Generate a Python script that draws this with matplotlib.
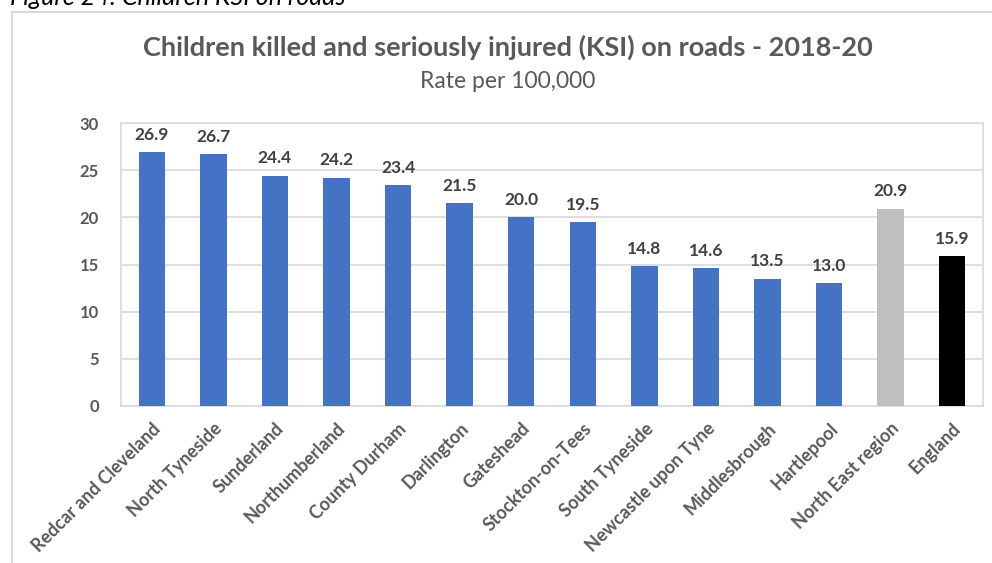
import matplotlib.pyplot as plt
from matplotlib.patches import Rectangle

# Data
areas = ['Redcar and Cleveland', 'North Tyneside', 'Sunderland', 'Northumberland',
         'County Durham', 'Darlington', 'Gateshead', 'Stockton-on-Tees',
         'South Tyneside', 'Newcastle upon Tyne', 'Middlesbrough', 'Hartlepool',
         'North East region', 'England']
rates = [26.9, 26.7, 24.4, 24.2, 23.4, 21.5, 20.0, 19.5, 14.8, 14.6, 13.5, 13.0, 20.9, 15.9]
colors = ['#4472C4'] * 12 + ['#BFBFBF', '#000000']

plt.rcParams['font.family'] = ['Lato', 'DejaVu Sans']

W, H = 992, 563
fig = plt.figure(figsize=(W / 100, H / 100), dpi=100)

# outer chart frame (cropped on right and bottom)
fig.patches.append(Rectangle((12 / W, -0.1), 1.0, 1 - 12 / H + 0.1,
                             transform=fig.transFigure, fill=False,
                             edgecolor='#D9D9D9', linewidth=1.5))

# cut-off caption at the very top
fig.text(10 / W, 1 - 5 / H, 'Figure 24: Children KSI on roads', fontsize=18,
         style='italic', color='#000000', va='baseline', ha='left')

fig.text(508 / W, 1 - 47 / H, 'Children killed and seriously injured (KSI) on roads - 2018-20',
         fontsize=19.5, fontweight='bold', color='#595959', ha='center', va='center')
fig.text(508 / W, 1 - 81 / H, 'Rate per 100,000', fontsize=16.5, color='#595959',
         ha='center', va='center')

ax = fig.add_axes([121 / W, 1 - 406 / H, (983 - 121) / W, (406 - 123) / H])
x = range(len(areas))
bars = ax.bar(x, rates, width=0.43, color=colors, zorder=3)

for xi, v in zip(x, rates):
    ax.text(xi, v + 1.0, f'{v:.1f}', ha='center', va='bottom', fontsize=12.5,
            fontweight='bold', color='#404040')

ax.set_xlim(-0.5, len(areas) - 0.5)
ax.set_ylim(0, 30)
ax.set_yticks(range(0, 31, 5))
ax.grid(axis='y', color='#D9D9D9', linewidth=1.2, zorder=0)
for s in ax.spines.values():
    s.set_color('#D9D9D9')
    s.set_linewidth(1.2)

ax.set_xticks(list(x))
ax.set_xticklabels(areas, rotation=45, ha='right', rotation_mode='anchor',
                   fontsize=13, fontweight='bold', color='#595959')
ax.tick_params(axis='x', length=0, pad=10)
ax.tick_params(axis='y', length=0, pad=16, labelsize=12, labelcolor='#595959')
for lab in ax.get_yticklabels():
    lab.set_fontweight('bold')

fig.savefig('out.png', dpi=100)
